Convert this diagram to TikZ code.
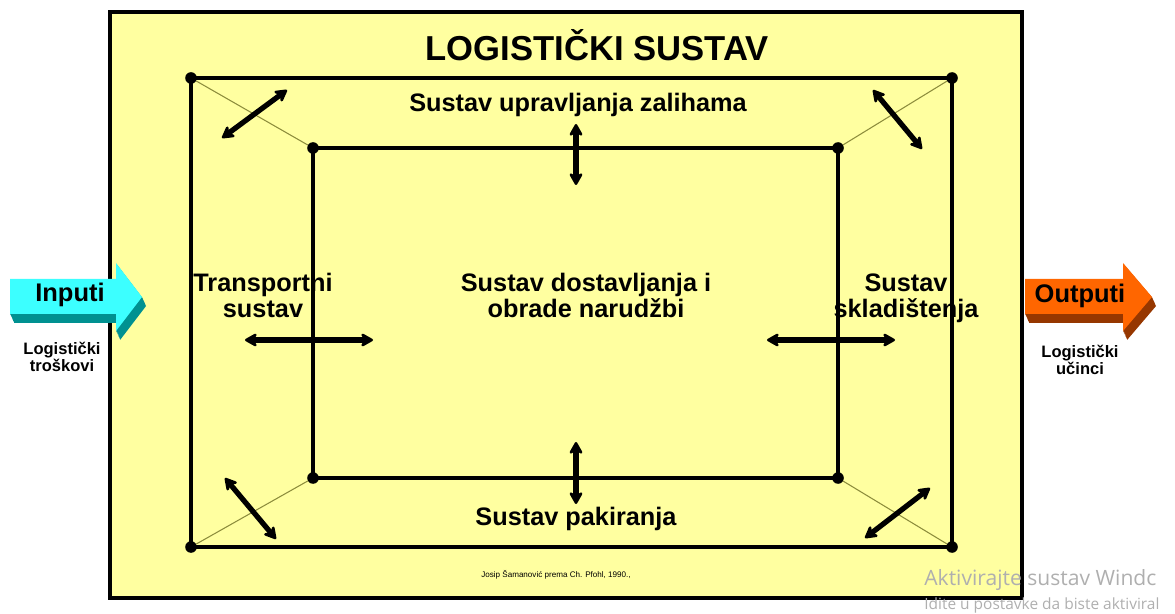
\documentclass[tikz,border=0pt]{standalone}
\usepackage{fontspec}
\setmainfont{Liberation Sans}
\newfontfamily\winfont{Open Sans}
\usetikzlibrary{arrows.meta}

\definecolor{panel}{RGB}{255,255,160}
\definecolor{cyanface}{RGB}{60,255,255}
\definecolor{cyanside}{RGB}{0,145,145}
\definecolor{orangeface}{RGB}{255,102,0}
\definecolor{orangeside}{RGB}{150,55,0}
\definecolor{diagline}{RGB}{140,140,60}
\definecolor{winmark}{RGB}{175,175,175}

\tikzset{
  dot/.style={circle, fill=black, inner sep=0pt, minimum size=6.6pt},
  frame/.style={line width=2.2pt},
  spoke/.style={diagline, line width=0.6pt},
  link/.style={line width=3pt, {Stealth[length=8.5pt,width=9.5pt,round]}-{Stealth[length=8.5pt,width=9.5pt,round]}},
  sysname/.style={font=\bfseries\fontsize{14.4}{14.8}\selectfont, align=center, inner sep=0pt},
  sidenote/.style={font=\bfseries\fontsize{9.4}{9.8}\selectfont, align=center, inner sep=0pt},
}

\begin{document}
\begin{tikzpicture}[x=0.02cm, y=-0.02cm]
  \useasboundingbox (0,0) rectangle (1175,614);

  % main panel
  \filldraw[fill=panel, line width=2.8pt] (110,12) rectangle (1022,598);
  \node[font=\bfseries\fontsize{19.7}{22}\selectfont] (title) at (597,45) {LOGISTIČKI SUSTAV};

  % outer and inner frame
  \node[dot] (A) at (191,78) {};
  \node[dot] (B) at (952,78) {};
  \node[dot] (C) at (952,547) {};
  \node[dot] (D) at (191,547) {};
  \node[dot] (a) at (313,148) {};
  \node[dot] (b) at (838,148) {};
  \node[dot] (c) at (838,478) {};
  \node[dot] (d) at (313,478) {};

  \draw[spoke] (A) -- (a);
  \draw[spoke] (B) -- (b);
  \draw[spoke] (C) -- (c);
  \draw[spoke] (D) -- (d);
  \draw[frame] (A.center) -- (B.center) -- (C.center) -- (D.center) -- cycle;
  \draw[frame] (a.center) -- (b.center) -- (c.center) -- (d.center) -- cycle;

  % subsystems
  \node[sysname] (stock) at (578,105) {Sustav upravljanja zalihama};
  \node[sysname] (order) at (586,295) {Sustav dostavljanja i\\obrade narudžbi};
  \node[sysname] (transport) at (263,295) {Transportni\\sustav};
  \node[sysname] (store) at (906,298) {Sustav\\skladištenja};
  \node[sysname] (pack) at (576,519) {Sustav pakiranja};

  % links
  \coordinate (TL1) at (222,138); \coordinate (TL2) at (287,90);
  \coordinate (TR1) at (873,90);  \coordinate (TR2) at (922,149);
  \coordinate (BL1) at (225,478); \coordinate (BL2) at (276,539);
  \coordinate (BR1) at (865,538); \coordinate (BR2) at (930,488);
  \coordinate (T1) at (576,124);  \coordinate (T2) at (576,185);
  \coordinate (S1) at (576,442);  \coordinate (S2) at (576,504);
  \coordinate (L1) at (245,340);  \coordinate (L2) at (373,340);
  \coordinate (R1) at (767,340);  \coordinate (R2) at (895,340);

  \draw[link] (TL1) -- (TL2);
  \draw[link] (TR1) -- (TR2);
  \draw[link] (BL1) -- (BL2);
  \draw[link] (BR1) -- (BR2);
  \draw[link] (T1) -- (T2);
  \draw[link] (S1) -- (S2);
  \draw[link] (L1) -- (L2);
  \draw[link] (R1) -- (R2);

  % input arrow
  \foreach \k in {1,...,9}
    \fill[cyanside, shift={(0.45*\k,\k)}] (10,279) -- (116,279) -- (116,263) -- (142,297) -- (116,331) -- (116,314) -- (10,314) -- cycle;
  \fill[cyanface] (10,279) -- (116,279) -- (116,263) -- (142,297) -- (116,331) -- (116,314) -- (10,314) -- cycle;
  \node[font=\bfseries\fontsize{14.5}{16}\selectfont] (in) at (70,295) {Inputi};
  \node[sidenote] (cost) at (62,357) {Logistički\\troškovi};

  % output arrow
  \foreach \k in {1,...,9}
    \fill[orangeside, shift={(0.45*\k,\k)}] (1025,279) -- (1123,279) -- (1123,263) -- (1152,297) -- (1123,331) -- (1123,314) -- (1025,314) -- cycle;
  \fill[orangeface] (1025,279) -- (1123,279) -- (1123,263) -- (1152,297) -- (1123,331) -- (1123,314) -- (1025,314) -- cycle;
  \node[font=\bfseries\fontsize{14.5}{16}\selectfont] (out) at (1080,296) {Outputi};
  \node[sidenote] (effect) at (1080,360) {Logistički\\učinci};

  % source
  \node[font=\fontsize{4.6}{5}\selectfont] (source) at (556,575) {Josip Šamanović prema Ch. Pfohl, 1990.,};

  % watermark
  \node[winmark, font=\winfont\fontsize{12}{13}\selectfont, anchor=west, inner sep=0pt] (mark1) at (924,580) {Aktivirajte sustav Windc};
  \node[winmark, font=\winfont\fontsize{8.8}{9}\selectfont, anchor=west, inner sep=0pt] (mark2) at (924,605) {Idite u postavke da biste aktiviral};
\end{tikzpicture}
\end{document}
